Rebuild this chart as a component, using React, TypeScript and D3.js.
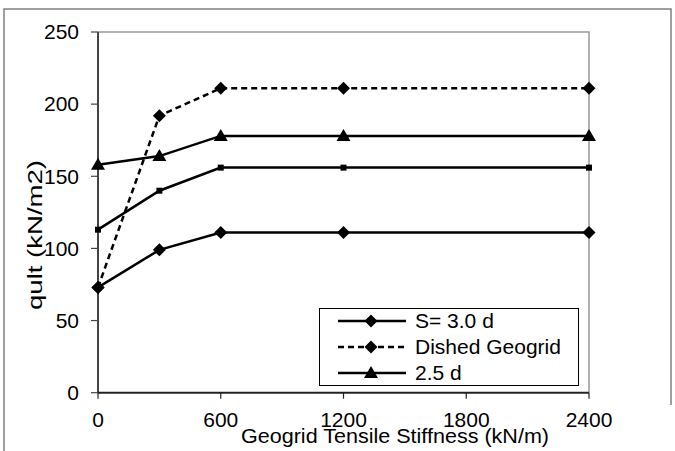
import React from 'react';
import * as d3 from 'd3';

// geogrid stiffness (kN/m) and ultimate bearing capacity (kN/m2)
const stiffness = [0, 300, 600, 1200, 2400];
const s30 = [73, 99, 111, 111, 111];
const dished = [73, 192, 211, 211, 211];
const s25 = [158, 164, 178, 178, 178];
const squareSeries = [113, 140, 156, 156, 156];

const xTicks = [0, 600, 1200, 1800, 2400];
const yTicks = [0, 50, 100, 150, 200, 250];

const FONT = 'Arial, "Liberation Sans", sans-serif';

const W = 675, H = 451;
const plot = { left: 98, right: 589, top: 32, bottom: 392.7 };

function Marker({ type, x, y }: { type: string; x: number; y: number }) {
  if (type === 'diamond') {
    const r = 6.5;
    return <path d={`M${x},${y - r}L${x + r},${y}L${x},${y + r}L${x - r},${y}Z`} fill="#000" />;
  }
  if (type === 'triangle') {
    return <path d={`M${x},${y - 7}L${x + 7},${y + 5}L${x - 7},${y + 5}Z`} fill="#000" />;
  }
  return <rect x={x - 3} y={y - 3} width={6} height={6} fill="#000" />;
}

export default function App() {
  const x = d3.scaleLinear().domain([0, 2400]).range([plot.left, plot.right]);
  const y = d3.scaleLinear().domain([0, 250]).range([plot.bottom, plot.top]);
  const line = d3.line<number>().x((_, i) => x(stiffness[i])).y(d => y(d));

  const series = [
    { name: 'S= 3.0 d', values: s30, marker: 'diamond', dash: undefined, legend: true },
    { name: 'Dished Geogrid', values: dished, marker: 'diamond', dash: '6,4', legend: true },
    { name: '2.5 d', values: s25, marker: 'triangle', dash: undefined, legend: true },
    { name: '', values: squareSeries, marker: 'square', dash: undefined, legend: false },
  ];

  const legendItems = series.filter(s => s.legend);

  return (
    <svg width={W} height={H} style={{ position: 'absolute', left: 0, top: 0 }}>
      <rect width={W} height={H} fill="#fff" />
      {/* outer frame */}
      <path d="M4,451V9H671V405" fill="none" stroke="#808080" strokeWidth={1.5} />
      {/* plot frame */}
      <path d={`M${plot.left},${plot.top}H${plot.right}V${plot.bottom}`} fill="none" stroke="#999" strokeWidth={1.5} />
      {/* axes */}
      <line x1={plot.left} x2={plot.left} y1={plot.top} y2={plot.bottom} stroke="#444" strokeWidth={2} />
      <line x1={plot.left} x2={plot.right} y1={plot.bottom} y2={plot.bottom} stroke="#222" strokeWidth={2} />
      {yTicks.map(t => (
        <g key={`y${t}`}>
          <line x1={plot.left - 7} x2={plot.left} y1={y(t)} y2={y(t)} stroke="#444" strokeWidth={1.2} />
          <text x={79} y={y(t)} dy="0.35em" textAnchor="end" fontFamily={FONT} fontSize={21}>{t}</text>
        </g>
      ))}
      {xTicks.map(t => (
        <g key={`x${t}`}>
          <line x1={x(t)} x2={x(t)} y1={plot.bottom} y2={plot.bottom + 6} stroke="#222" strokeWidth={1.2} />
          <text x={x(t)} y={426.5} textAnchor="middle" fontFamily={FONT} fontSize={21}>{t}</text>
        </g>
      ))}
      <text x={241} y={443} fontFamily={FONT} fontSize={20} textLength={308} lengthAdjust="spacingAndGlyphs">
        Geogrid Tensile Stiffness (kN/m)
      </text>
      <text transform="translate(35,235) rotate(-90)" dy="0.35em" textAnchor="middle" fontFamily={FONT} fontSize={21}
        textLength={150} lengthAdjust="spacingAndGlyphs">
        qult (kN/m2)
      </text>

      {series.map((s, si) => (
        <g key={si}>
          <path d={line(s.values) || ''} fill="none" stroke="#000" strokeWidth={2.5} strokeDasharray={s.dash} />
          {s.values.map((v, i) => (
            <Marker key={i} type={s.marker} x={x(stiffness[i])} y={y(v)} />
          ))}
        </g>
      ))}

      {/* legend */}
      <rect x={319.5} y={308.5} width={259} height={77} fill="#fff" stroke="#000" strokeWidth={1} />
      {legendItems.map((s, i) => {
        const cy = 321 + i * 26;
        return (
          <g key={s.name}>
            <line x1={338} x2={406} y1={cy} y2={cy} stroke="#000" strokeWidth={2.5} strokeDasharray={s.dash} />
            <Marker type={s.marker} x={371} y={cy} />
            <text x={415} y={cy} dy="0.35em" fontFamily={FONT} fontSize={21}>{s.name}</text>
          </g>
        );
      })}
    </svg>
  );
}
